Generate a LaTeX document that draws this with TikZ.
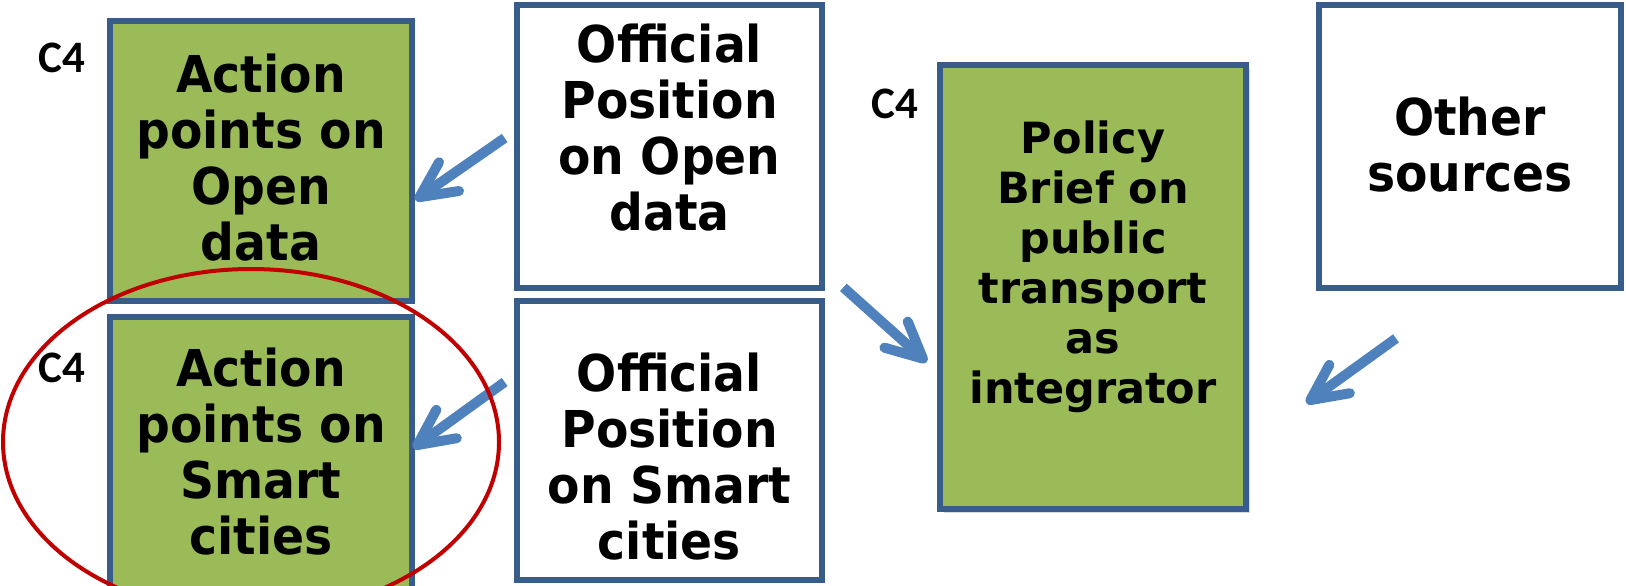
\documentclass[tikz,border=0pt]{standalone}
\usepackage{fontspec}
\setmainfont{DejaVu Sans}
\newfontfamily\boxfont{DejaVu Sans}[FakeStretch=0.93]
\newfontfamily\briefont{DejaVu Sans}
\newfontfamily\tagfont{Carlito}
\usepackage{xcolor}
\usepackage{tikz}
\usetikzlibrary{arrows.meta,shadows}

\definecolor{frameblue}{RGB}{56,93,138}
\definecolor{leafgreen}{RGB}{155,187,89}
\definecolor{flowblue}{RGB}{79,129,189}
\definecolor{markred}{RGB}{192,0,0}

\tikzset{
    box/.style={draw=frameblue, line width=3.35pt, inner sep=0pt},
    greenbox/.style={box, fill=leafgreen},
    whitebox/.style={box, fill=white},
    boxtext/.style={anchor=north, align=center, inner sep=0pt, font={\boxfont\bfseries\fontsize{25.4}{28}\selectfont}},
    brieftext/.style={anchor=north, align=center, inner sep=0pt, font={\briefont\bfseries\fontsize{21.5}{25}\selectfont}},
    tag/.style={inner sep=0pt, font={\tagfont\bfseries\fontsize{22.5}{27}\selectfont}},
    flow/.style={draw=flowblue, line width=5pt, -{Straight Barb[length=18pt,width=17.5pt,round]}},
}

\begin{document}
\begin{tikzpicture}[x=0.5pt, y=-0.5pt]
    \useasboundingbox (0,0) rectangle (1626,585);
    \clip (0,0) rectangle (1626,585);

    % Action points
    \node[greenbox, minimum width=151pt, minimum height=140pt] (apOpen) at (261,161) {};
    \node[greenbox, minimum width=151pt, minimum height=140pt] (apSmart) at (261,457) {};
    \node[boxtext] (apOpenTxt) at (261,53.5) {Action\\points on\\Open\\data};
    \node[boxtext] (apSmartTxt) at (261,347.5) {Action\\points on\\Smart\\cities};
    \node[tag] (tagOpen) at (62,57.5) {C4};
    \node[tag] (tagSmart) at (62,367.5) {C4};

    % Official positions
    \node[whitebox, minimum width=152.5pt, minimum height=141.5pt] (posOpen) at (669.5,146.5) {};
    \node[whitebox, minimum width=152.5pt, minimum height=139.5pt] (posSmart) at (669.5,440.5) {};
    \node[boxtext] (posOpenTxt) at (669.5,23.5) {Official\\Position\\on Open\\data};
    \node[boxtext] (posSmartTxt) at (669.5,352.5) {Official\\Position\\on Smart\\cities};

    % Policy brief
    \node[greenbox, minimum width=153pt, minimum height=222pt,
          drop shadow={shadow xshift=2pt, shadow yshift=-2pt, opacity=0.3}] (brief) at (1093,287) {};
    \node[brieftext] (briefTxt) at (1093,120) {Policy\\Brief on\\public\\transport\\as\\integrator};
    \node[tag] (tagBrief) at (895,104) {C4};

    % Other sources
    \node[whitebox, minimum width=151pt, minimum height=141.5pt] (other) at (1470,146.5) {};
    \node[boxtext] (otherTxt) at (1470,96.5) {Other\\sources};

    % Arrows
    \coordinate (tailA) at ([xshift=-4.5pt, yshift=4.25pt]posOpen.west);
    \coordinate (tailB) at ([xshift=-4.5pt, yshift=29.25pt]posSmart.west);
    \coordinate (tailC) at ([xshift=9pt, yshift=2pt]posOpen.south east);
    \coordinate (tailD) at ([xshift=-37pt, yshift=-23.5pt]other.south);
    \draw[flow] (tailA) -- ([yshift=-19.5pt]apOpen.east);
    \draw[flow] (tailB) -- ([xshift=-1pt, yshift=4.5pt]apSmart.east);
    \draw[flow] (tailC) -- ([xshift=-5pt, yshift=-37.5pt]brief.west);
    \draw[flow] (tailD) -- ([xshift=28.5pt, yshift=-58pt]brief.east);

    % Highlight
    \draw[markred, line width=2pt] (251,442) ellipse [x radius=248, y radius=173];
\end{tikzpicture}
\end{document}
